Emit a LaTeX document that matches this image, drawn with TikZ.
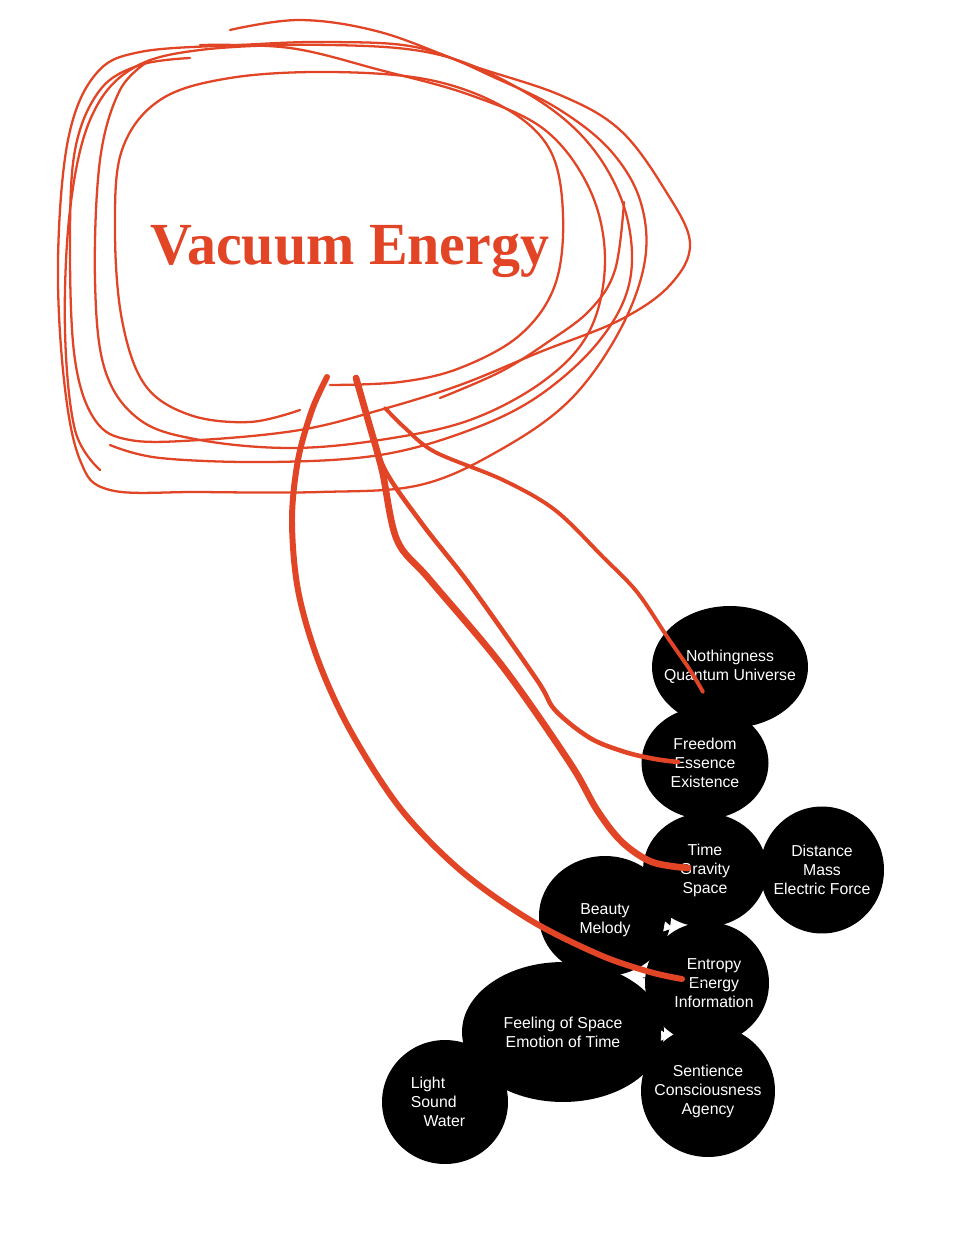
\documentclass[tikz,border=0pt]{standalone}
\usepackage{graphicx}
\usepackage{fontspec}
\setmainfont{Liberation Serif}
\setsansfont{Liberation Sans}
\usetikzlibrary{arrows.meta, calc, shapes.geometric}
\definecolor{vred}{RGB}{226,68,38}

\begin{document}
\begin{tikzpicture}[x=0.02cm, y=-0.02cm,
  blob/.style={ellipse, fill=black, inner sep=0pt},
  blobtext/.style={text=white, inner sep=0pt, align=center, font=\sffamily\fontsize{9}{10.8}\selectfont},
  scrawl/.style={vred, line width=1.3pt, line cap=round, line join=round},
  feeder/.style={vred, line cap=round, line join=round},
  notch/.style={black, line width=0.4pt, -{Triangle[color=white, length=1.8mm, width=2mm]}}]
  \fill[white] (0,0) rectangle (958,1236);
  \useasboundingbox (0,0) rectangle (958,1236);

  % the scribbled cloud
  \draw[scrawl] plot[smooth, tension=0.6] coordinates {(300,410) (250,422) (190,415) (145,385) (122,320) (115,230) (122,150) (160,100) (230,78) (330,72) (430,80) (505,108) (550,150) (563,215) (555,285) (520,335) (460,368) (400,382) (330,385)};
  \draw[scrawl] plot[smooth, tension=0.6] coordinates {(440,398) (500,372) (548,342) (590,310) (615,270) (624,202)};
  \draw[scrawl] plot[smooth, tension=0.6] coordinates {(230,30) (300,20) (380,32) (470,65) (560,95) (620,130) (665,190) (690,243) (670,285) (620,320) (540,352) (460,385) (380,410) (300,430) (200,440) (130,440) (95,420) (75,360) (70,250) (75,150) (100,90) (140,65) (190,58)};
  \draw[scrawl] plot[smooth cycle, tension=0.6] coordinates {(140,52) (95,75) (68,140) (58,260) (64,380) (80,460) (110,490) (200,492) (320,492) (420,485) (500,450) (570,400) (620,330) (645,260) (640,200) (610,150) (560,110) (500,80) (420,48) (330,42) (240,45)};
  \draw[scrawl] plot[smooth, tension=0.6] coordinates {(100,470) (75,430) (65,330) (70,210) (90,120) (130,70) (200,50) (330,45) (440,55) (530,95) (590,145) (625,210) (630,280) (600,340) (540,395) (470,430) (380,455) (270,462) (160,458) (110,445)};
  \draw[scrawl] plot[smooth, tension=0.6] coordinates {(150,60) (120,90) (100,160) (95,280) (105,370) (140,420) (200,440) (290,448) (380,440) (470,420) (545,380) (590,330) (605,260) (590,190) (545,130) (470,95) (380,70) (290,48) (200,45)};
  \node[font=\bfseries\fontsize{34}{34}\selectfont, text=vred, anchor=base, inner sep=0pt] (vacuum) at (350,265) {\scalebox{0.97}[1]{Vacuum Energy}};

  % black cluster
  \node[blob, minimum width=3.12cm, minimum height=2.44cm, label={[blobtext]center:{Nothingness\\Quantum Universe}}] (nothing) at (730,667) {};
  \node[blob, minimum width=2.54cm, minimum height=2.24cm, label={[blobtext]center:{Freedom\\Essence\\Existence}}] (freedom) at (705,763) {};
  \node[blob, minimum width=2.48cm, minimum height=2.28cm, label={[blobtext]center:{Time\\Gravity\\Space}}] (time) at (705,870) {};
  \node[blob, minimum width=2.48cm, minimum height=2.54cm, label={[blobtext]center:{Distance\\Mass\\Electric Force}}] (distance) at (822,870) {};
  \node[blob, minimum width=2.52cm, minimum height=2.48cm, label={[blobtext, align=left, xshift=-0.14cm]center:{Light\\Sound\\\hspace{0.8em}Water}}] (light) at (445,1102) {};
  \node[blob, minimum width=2.68cm, minimum height=2.64cm, label={[blobtext]center:{Sentience\\Consciousness\\Agency}}] (sentience) at (708,1091) {};
  \node[blob, minimum width=2.48cm, minimum height=2.44cm, label={[blobtext, xshift=0.14cm]center:{Entropy\\Energy\\Information}}] (entropy) at (707,983) {};
  \node[blob, minimum width=2.64cm, minimum height=2.40cm, label={[blobtext, yshift=-0.08cm]center:{Beauty\\Melody}}] (beauty) at (605,916) {};
  \node[blob, minimum width=4.04cm, minimum height=2.80cm, label={[blobtext]center:{Feeling of Space\\Emotion of Time}}] (feeling) at (563,1032) {};

  \coordinate (tipA) at (673,928);
  \coordinate (tipB) at (634,977);
  \coordinate (tipC) at (670,1036);
  \draw[notch] (beauty.center) -- (tipA);
  \draw[notch] (entropy.center) -- (tipB);
  \draw[notch] (feeling.center) -- (tipC);

  % red feeders
  \coordinate (baseA) at (327,377);
  \coordinate (baseB) at (356,378);
  \coordinate (baseD) at (385,408);
  \coordinate (hitE) at ($(entropy)+(-25,-4)$);
  \coordinate (hitT) at ($(time)+(-17,-2)$);
  \coordinate (hitF) at ($(freedom)+(-27,-1)$);
  \coordinate (hitN) at ($(nothing)+(-27,25)$);
  \draw[feeder, line width=3.4pt] plot[smooth, tension=0.55] coordinates {(baseA) (312,410) (298,460) (292,520) (298,590) (318,660) (350,730) (400,808) (460,870) (530,920) (600,955) (650,972) (hitE)};
  \draw[feeder, line width=3.8pt] plot[smooth, tension=0.55] coordinates {(baseB) (368,420) (382,470) (397,540) (430,580) (503,667) (570,763) (597,810) (622,842) (652,862) (hitT)};
  \draw[feeder, line width=2.6pt] plot[smooth, tension=0.55] coordinates {(baseB) (368,420) (385,470) (423,525) (470,585) (537,680) (555,710) (590,738) (625,752) (655,759) (hitF)};
  \draw[feeder, line width=2.2pt] plot[smooth, tension=0.55] coordinates {(baseD) (405,428) (435,452) (503,480) (555,510) (603,557) (637,592) (668,638) (690,670) (hitN)};
\end{tikzpicture}
\end{document}
